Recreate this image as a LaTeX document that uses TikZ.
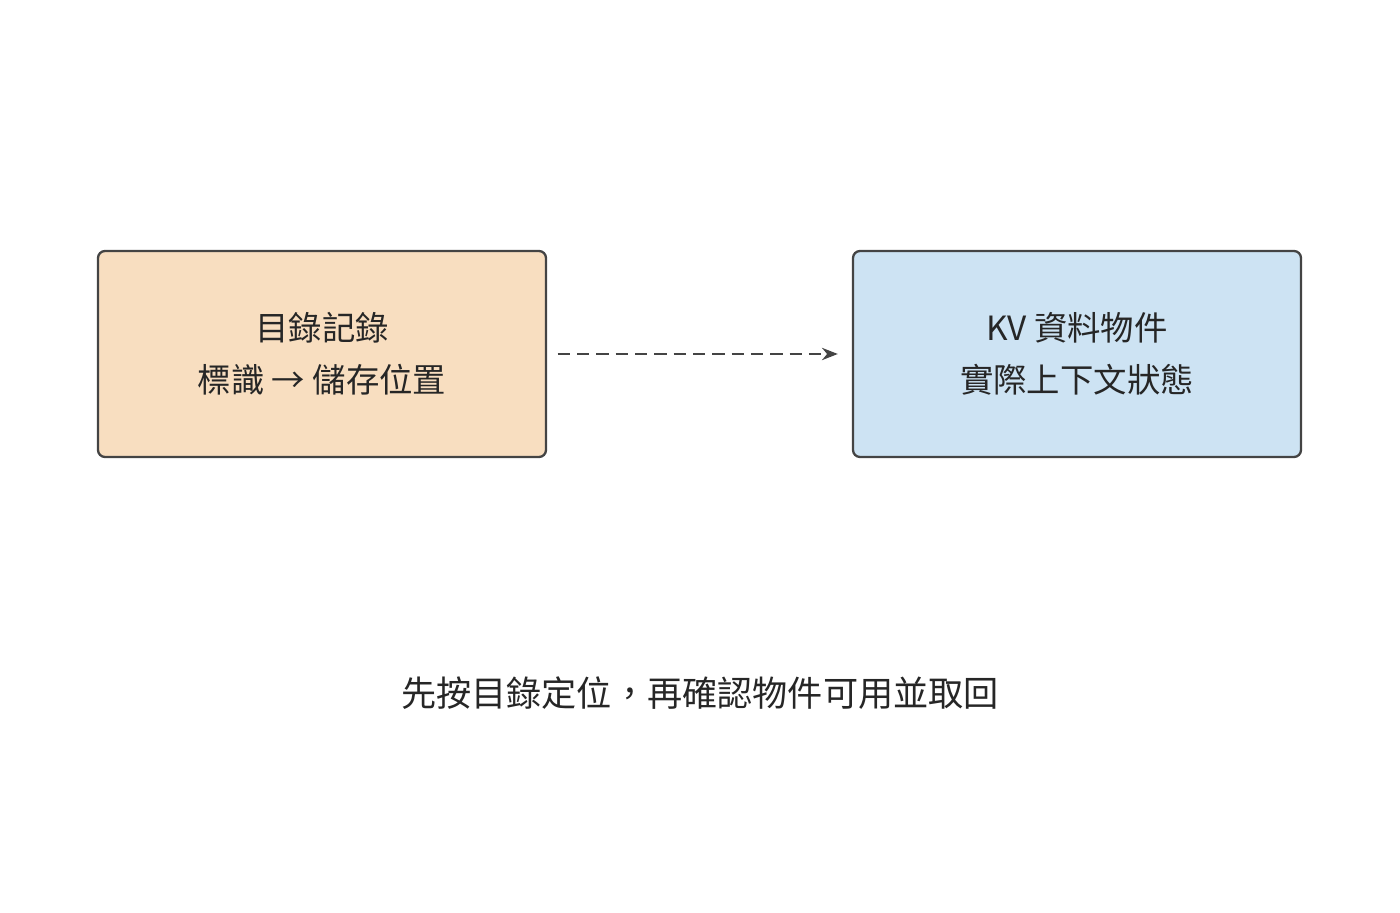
\documentclass[tikz,border=0pt]{standalone}
\usepackage{fontspec}
\setmainfont{Noto Sans CJK TC}
\usetikzlibrary{arrows.meta,positioning}
\definecolor{boxline}{HTML}{444444}
\definecolor{peach}{HTML}{F8DEC0}
\definecolor{skyblue}{HTML}{CDE3F3}
\tikzset{
  box/.style={draw=boxline,line width=1.3pt,rounded corners=4pt,minimum width=8.96cm,minimum height=4.12cm,align=center,font=\fontsize{19pt}{29.5pt}\selectfont,text=black!85},
}
\begin{document}
\begin{tikzpicture}[>={Stealth[length=9pt,width=7pt]},thick]
		\useasboundingbox (0,0) rectangle (28,18.24);
		% boxes
		\node[box,fill=peach] (dir) at (6.44,11.16) {目錄記錄\\標識 → 儲存位置};
		\node[box,fill=skyblue] (kv) at (21.54,11.16) {KV 資料物件\\實際上下文狀態};
		% caption
		\node[font=\fontsize{20pt}{24pt}\selectfont,text=black!85] (note) at (14,4.38) {先按目錄定位，再確認物件可用並取回};

		\draw[->,dashed,boxline,line width=1.3pt,dash pattern=on 7pt off 4pt] ([xshift=6pt]dir.east) -- ([xshift=-8pt]kv.west);
\end{tikzpicture}
\end{document}
